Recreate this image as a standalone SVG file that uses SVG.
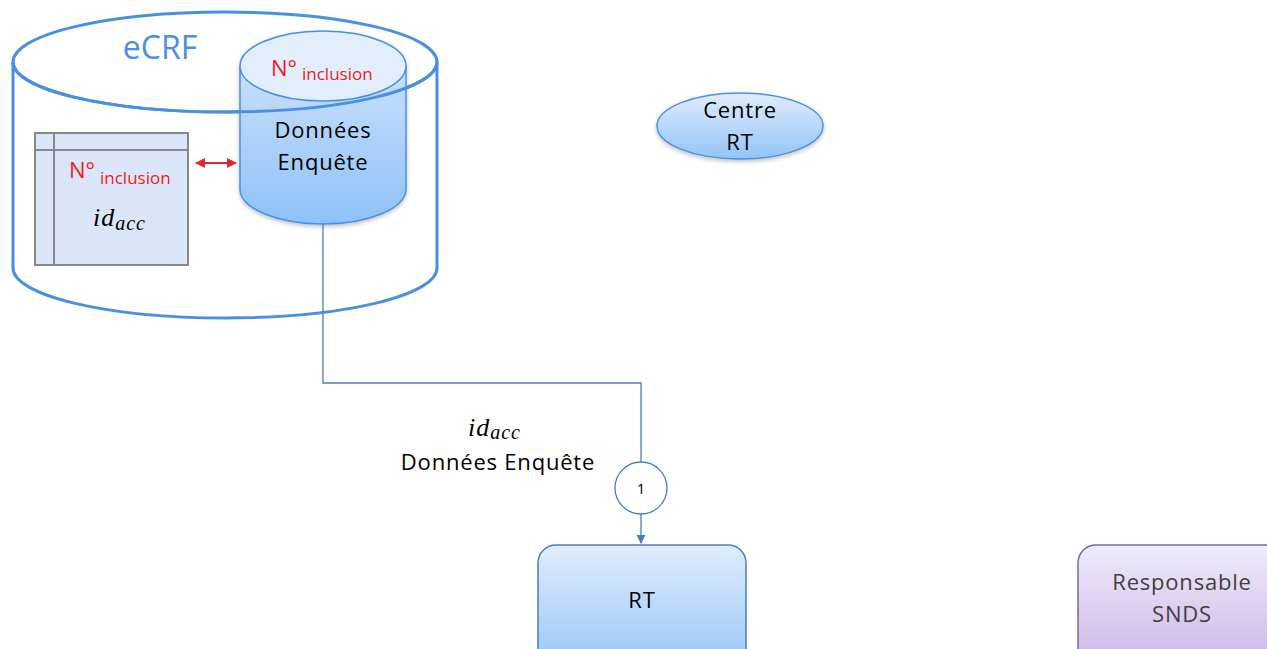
<svg xmlns="http://www.w3.org/2000/svg" width="1267" height="649" viewBox="0 0 1267 649">
  <style>
    .lbl { font-family: "Open Sans", "Noto Sans", "Liberation Sans", sans-serif; font-size: 22px; letter-spacing: 0.8px; fill: #000; }
    .red { font-family: "Open Sans", "Noto Sans", "Liberation Sans", sans-serif; fill: #ee1c1c; }
    .math { font-family: "Liberation Serif", "DejaVu Serif", serif; font-style: italic; fill: #000; letter-spacing: 1px; }
    .conn { fill: none; stroke: #4a7ebb; stroke-width: 1.3; }
  </style>
  <defs>
    <linearGradient id="blueFill" x1="0" y1="0" x2="0" y2="1">
      <stop offset="0" stop-color="#e0ecfc"/>
      <stop offset="1" stop-color="#93c4f8"/>
    </linearGradient>
    <linearGradient id="cylBody" x1="0" y1="0" x2="0" y2="1">
      <stop offset="0" stop-color="#c9e0fb"/>
      <stop offset="1" stop-color="#8ec1f8"/>
    </linearGradient>
    <linearGradient id="purpleFill" x1="0" y1="0" x2="0" y2="1">
      <stop offset="0" stop-color="#f0ebf9"/>
      <stop offset="1" stop-color="#c8b3e6"/>
    </linearGradient>
    <filter id="shadow" x="-10%" y="-10%" width="130%" height="130%">
      <feDropShadow dx="0" dy="2" stdDeviation="2" flood-color="#000" flood-opacity="0.25"/>
    </filter>
    <marker id="arrowBlue" viewBox="0 0 10 10" refX="9" refY="5" markerWidth="7" markerHeight="7" orient="auto">
      <path d="M0,0 L10,5 L0,10 z" fill="#4a7ebb"/>
    </marker>
    <marker id="arrowRed" viewBox="0 0 10 10" refX="9" refY="5" markerWidth="5" markerHeight="5" orient="auto-start-reverse">
      <path d="M0,0 L10,5 L0,10 z" fill="#e0292e"/>
    </marker>
  </defs>

  <!-- eCRF outer container cylinder -->
  <g id="ecrf">
    <path d="M13,62 L13,268 A212,50 0 0 0 437,268 L437,62" fill="#fff" stroke="#4a90e2" stroke-width="3"/>
    <ellipse cx="225" cy="62" rx="212" ry="50" fill="#fff" stroke="#4a90e2" stroke-width="3"/>
    <text x="160" y="59" text-anchor="middle" font-family="Open Sans, Noto Sans, Liberation Sans, sans-serif" font-size="32" fill="#4a90e2">eCRF</text>
  </g>

  <!-- survey data store -->
  <g id="donnees-enquete">
    <g filter="url(#shadow)">
      <path d="M240,66 L240,189 A83,35 0 0 0 406,189 L406,66 Z" fill="url(#cylBody)" stroke="#4a90e2" stroke-width="1.5"/>
      <ellipse cx="323" cy="66" rx="83" ry="35" fill="#e2eefc" stroke="#4a90e2" stroke-width="1.5"/>
    </g>
    <text class="red" x="271" y="76" font-size="22">N°<tspan font-size="17" dx="5" dy="4">inclusion</tspan></text>
    <text class="lbl" x="323" y="138" text-anchor="middle">Données</text>
    <text class="lbl" x="323" y="170" text-anchor="middle">Enquête</text>
  </g>
  <!-- front rim of the eCRF lid, passing in front of the data store -->
  <path d="M13,62 A212,50 0 0 0 437,62" fill="none" stroke="#4a90e2" stroke-width="3"/>

  <!-- correspondence table -->
  <g id="table">
    <rect x="35" y="133" width="153" height="132" fill="#dae6f8" stroke="#888" stroke-width="2"/>
    <line x1="35" y1="150" x2="188" y2="150" stroke="#888" stroke-width="2"/>
    <line x1="54" y1="133" x2="54" y2="265" stroke="#888" stroke-width="2"/>
    <text class="red" x="69" y="178" font-size="22">N°<tspan font-size="17" dx="5" dy="6">inclusion</tspan></text>
    <text class="math" x="93" y="226" font-size="26">id<tspan font-size="20" dy="4">acc</tspan></text>
  </g>

  <!-- Centre RT -->
  <g id="centre-rt">
    <ellipse cx="740" cy="126" rx="83" ry="33" fill="url(#blueFill)" stroke="#4a90e2" stroke-width="1.5" filter="url(#shadow)"/>
    <text class="lbl" x="740" y="118" text-anchor="middle">Centre</text>
    <text class="lbl" x="740" y="150" text-anchor="middle">RT</text>
  </g>

  <!-- RT -->
  <g id="rt">
    <rect x="538" y="545" width="208" height="130" rx="18" fill="url(#blueFill)" stroke="#4a7ebb" stroke-width="1.5"/>
    <text class="lbl" x="642" y="608" text-anchor="middle" font-size="21">RT</text>
  </g>

  <!-- Responsable SNDS -->
  <g id="responsable-snds">
    <rect x="1078" y="545" width="220" height="130" rx="18" fill="url(#purpleFill)" stroke="#8064a2" stroke-width="1.5"/>
    <text class="lbl" x="1182" y="590" text-anchor="middle" style="fill:#404040">Responsable</text>
    <text class="lbl" x="1182" y="622" text-anchor="middle" style="fill:#404040">SNDS</text>
  </g>

  <!-- connectors -->
  <g id="connectors">
    <line x1="196" y1="163" x2="236" y2="163" stroke="#e0292e" stroke-width="2" marker-start="url(#arrowRed)" marker-end="url(#arrowRed)"/>
    <path class="conn" d="M323,224 L323,383 L641,383 L641,462"/>
    <line class="conn" x1="641" y1="514" x2="641" y2="543" marker-end="url(#arrowBlue)"/>
    <g id="step-1">
      <circle cx="641" cy="488" r="26" fill="#fff" stroke="#4a7ebb" stroke-width="1.3"/>
      <text x="641" y="494" text-anchor="middle" font-family="Open Sans, Noto Sans, Liberation Sans, sans-serif" font-size="15">1</text>
    </g>
    <text class="math" x="468" y="436" font-size="26">id<tspan font-size="20" dy="3">acc</tspan></text>
    <text class="lbl" x="498" y="470" text-anchor="middle" font-size="23" letter-spacing="1.5">Données Enquête</text>
  </g>
</svg>
